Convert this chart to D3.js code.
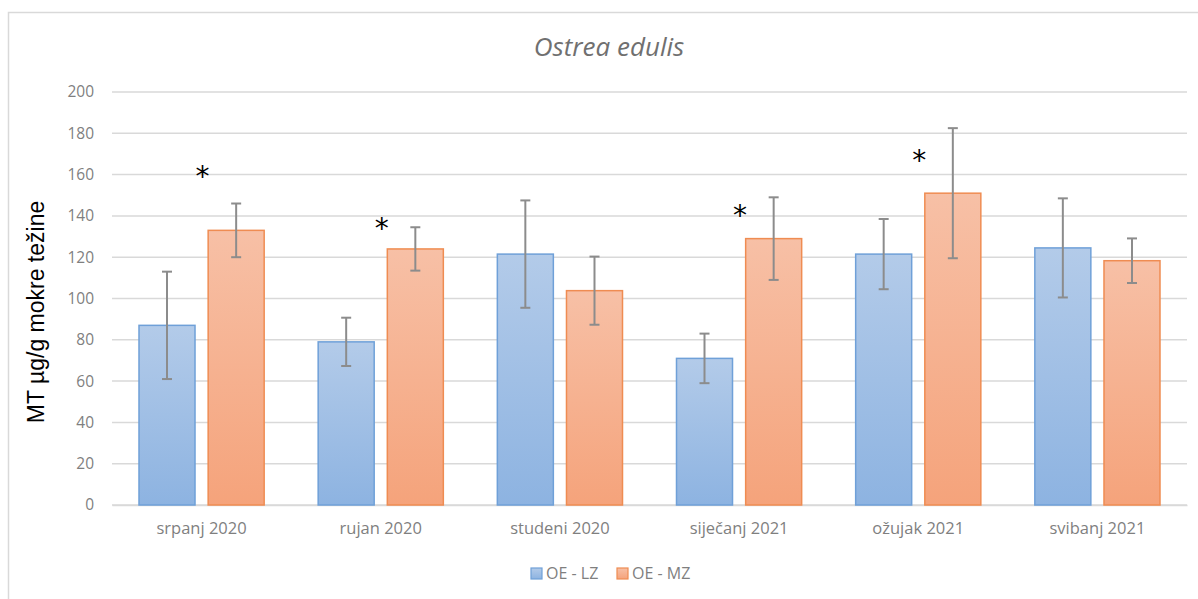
<!DOCTYPE html>
<html>
<head>
<meta charset="utf-8">
<script src="https://cdn.jsdelivr.net/npm/d3@7"></script>
<style>
  body { margin: 0; background: #fff; }
  svg { display: block; }
</style>
</head>
<body>
<svg></svg>
<script>
var width = 1198,
    height = 599;

var months = ["srpanj 2020", "rujan 2020", "studeni 2020", "siječanj 2021", "ožujak 2021", "svibanj 2021"];
var series = ["OE - LZ", "OE - MZ"];
var lzValues = [87, 79, 121.5, 71, 121.5, 124.5];
var lzErrors = [26, 11.7, 26, 12, 17, 24];
var mzValues = [133, 124, 103.8, 129, 151, 118.3];
var mzErrors = [13, 10.5, 16.5, 20, 31.5, 10.8];
var starMonths = ["srpanj 2020", "rujan 2020", "siječanj 2021", "ožujak 2021"];
var starValues = [160, 134.5, 141, 167.5];
var yTicks = [0, 20, 40, 60, 80, 100, 120, 140, 160, 180, 200];

var plot = { left: 112, right: 1187, top: 92, bottom: 505 };

var svg = d3.select("svg")
    .attr("width", width)
    .attr("height", height);

// gradients like the office chart
var defs = svg.append("defs");
var grads = [
    { id: "gLZ", top: "#b3cbe9", bottom: "#8db3e1" },
    { id: "gMZ", top: "#f7c0a6", bottom: "#f5a37b" }
];
grads.forEach(g => {
    var lg = defs.append("linearGradient")
        .attr("id", g.id)
        .attr("x1", 0).attr("y1", 0).attr("x2", 0).attr("y2", 1);
    lg.append("stop").attr("offset", "0%").attr("stop-color", g.top);
    lg.append("stop").attr("offset", "100%").attr("stop-color", g.bottom);
});
var fills = ["url(#gLZ)", "url(#gMZ)"];
var strokes = ["#6fa0d8", "#ef8c52"];

// chart frame
svg.append("rect")
    .attr("x", 8.5).attr("y", 12.5)
    .attr("width", 1300).attr("height", 700)
    .attr("fill", "none")
    .attr("stroke", "#d9d9d9")
    .attr("stroke-width", 1.5);

var x = d3.scaleBand()
    .domain(months)
    .range([plot.left, plot.right]);

var xSub = d3.scaleBand()
    .domain(series)
    .range([27, x.bandwidth() - 27])
    .paddingInner(0.19);

var y = d3.scaleLinear()
    .domain([0, 200])
    .range([plot.bottom, plot.top]);

// gridlines
svg.append("g")
    .selectAll("line")
    .data(yTicks)
    .join("line")
    .attr("x1", plot.left)
    .attr("x2", plot.right)
    .attr("y1", d => y(d))
    .attr("y2", d => y(d))
    .attr("stroke", "#d9d9d9")
    .attr("stroke-width", 1.5);

// y axis labels
var yAxis = svg.append("g")
    .attr("transform", "translate(" + (plot.left - 18) + ",0)")
    .call(d3.axisLeft(y).tickValues(yTicks).tickSize(0).tickPadding(0));
yAxis.select(".domain").remove();
yAxis.selectAll("text")
    .attr("font-family", "'Open Sans', sans-serif")
    .attr("font-size", 15.5)
    .attr("fill", "#7f7f7f");

// x axis labels
var xAxis = svg.append("g")
    .attr("transform", "translate(0," + plot.bottom + ")")
    .call(d3.axisBottom(x).tickSize(0).tickPadding(17));
xAxis.select(".domain")
    .attr("stroke", "#d9d9d9")
    .attr("stroke-width", 1.5);
xAxis.selectAll("text")
    .attr("font-family", "'Open Sans', sans-serif")
    .attr("font-size", 16.5)
    .attr("fill", "#7f7f7f");

var rows = months.map((m, i) => ({
    month: m,
    vals: [
        { s: series[0], v: lzValues[i], e: lzErrors[i], k: 0 },
        { s: series[1], v: mzValues[i], e: mzErrors[i], k: 1 }
    ]
}));

var groups = svg.append("g")
    .selectAll("g")
    .data(rows)
    .join("g")
    .attr("transform", d => "translate(" + x(d.month) + ",0)");

groups.selectAll("rect")
    .data(d => d.vals)
    .join("rect")
    .attr("x", d => xSub(d.s))
    .attr("y", d => y(d.v))
    .attr("width", xSub.bandwidth())
    .attr("height", d => y(0) - y(d.v))
    .attr("fill", d => fills[d.k])
    .attr("stroke", d => strokes[d.k])
    .attr("stroke-width", 1.5);

// error bars
var err = groups.selectAll("g.err")
    .data(d => d.vals)
    .join("g")
    .attr("class", "err")
    .attr("stroke", "#8c8c8c")
    .attr("stroke-width", 2);

err.append("line")
    .attr("x1", d => xSub(d.s) + xSub.bandwidth() / 2)
    .attr("x2", d => xSub(d.s) + xSub.bandwidth() / 2)
    .attr("y1", d => y(d.v + d.e))
    .attr("y2", d => y(d.v - d.e));
[1, -1].forEach(sign => {
    err.append("line")
        .attr("x1", d => xSub(d.s) + xSub.bandwidth() / 2 - 5)
        .attr("x2", d => xSub(d.s) + xSub.bandwidth() / 2 + 5)
        .attr("y1", d => y(d.v + sign * d.e))
        .attr("y2", d => y(d.v + sign * d.e));
});

// significance stars
svg.append("g")
    .selectAll("text")
    .data(starMonths)
    .join("text")
    .attr("x", d => x(d) + x.bandwidth() / 2 + 1)
    .attr("y", (d, i) => y(starValues[i]) + 11)
    .attr("text-anchor", "middle")
    .attr("font-family", "'DejaVu Sans', sans-serif")
    .attr("font-size", 28)
    .attr("fill", "#000")
    .text("*");

// title
svg.append("text")
    .attr("x", 609)
    .attr("y", 56)
    .attr("text-anchor", "middle")
    .attr("font-family", "'Open Sans', sans-serif")
    .attr("font-style", "italic")
    .attr("font-size", 26)
    .attr("fill", "#707070")
    .text("Ostrea edulis");

// y axis title
svg.append("text")
    .attr("transform", "translate(44,312) rotate(-90)")
    .attr("text-anchor", "middle")
    .attr("font-family", "'Liberation Sans', Arial, sans-serif")
    .attr("font-size", 23)
    .attr("fill", "#000")
    .text("MT µg/g mokre težine");

// legend
var legend = svg.append("g")
    .attr("transform", "translate(531,568)");
var legX = [0, 86];
series.forEach((s, i) => {
    var lg = legend.append("g").attr("transform", "translate(" + legX[i] + ",0)");
    lg.append("rect")
        .attr("width", 11).attr("height", 11)
        .attr("fill", fills[i])
        .attr("stroke", strokes[i])
        .attr("stroke-width", 1.2);
    lg.append("text")
        .attr("x", 15).attr("y", 11)
        .attr("font-family", "'Open Sans', sans-serif")
        .attr("font-size", 16)
        .attr("fill", "#7f7f7f")
        .text(s);
});
</script>
</body>
</html>
